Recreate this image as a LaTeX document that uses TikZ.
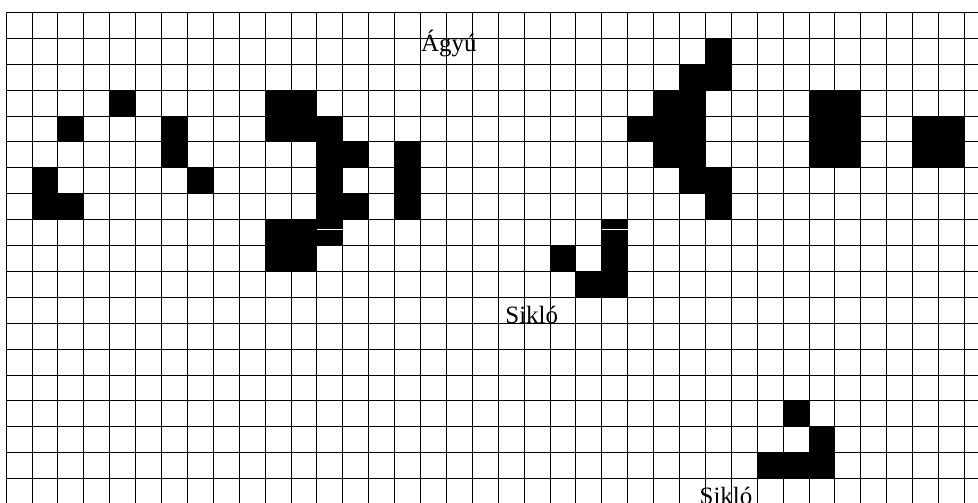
\documentclass[tikz,border=0pt]{standalone}
\usepackage{fontspec}
\setmainfont{Liberation Serif}

\begin{document}
\begin{tikzpicture}[x=0.5cm, y=-0.5cm,
  every node/.style={font=\fontsize{13.7}{16}\selectfont, inner sep=0pt},
  alive/.style={fill=black},
  gridline/.style={black, line width=0.4pt},
  gap/.style={white, line width=0.4pt}]
\useasboundingbox (-0.232,-0.475) rectangle (37.53,18.91);
\clip (-0.232,-0.475) rectangle (37.53,18.91);

% the board
\foreach \i in {0,...,37} \draw[gridline] (\i,0) -- (\i,20);
\foreach \j in {0,...,19} \draw[gridline] (0,\j) -- (38,\j);

% live cells (column/row)
\foreach \c/\r in {4/3, 2/4, 6/4, 6/5, 7/6, 1/6, 1/7, 2/7,
  10/3, 11/3, 10/4, 11/4, 12/4, 12/5, 12/6, 12/7, 12/8, 13/5, 13/7,
  15/5, 15/6, 15/7, 10/8, 11/8, 10/9, 11/9,
  27/1, 26/2, 27/2, 25/3, 26/3, 24/4, 25/4, 26/4, 25/5, 26/5, 26/6, 27/6, 27/7,
  31/3, 32/3, 31/4, 32/4, 31/5, 32/5,
  35/4, 36/4, 35/5, 36/5,
  21/9, 22/10, 23/8, 23/9, 23/10,
  30/15, 31/16, 29/17, 30/17, 31/17}
  \fill[alive] (\c,\r) rectangle ++(1,1);
\draw[gap] (12,8.386) -- ++(1,0);
\draw[gap] (23,8.386) -- ++(1,0);

% labels
\node[anchor=base] (agyu) at (17.1,1.52) {Ágyú};
\node[anchor=base] (siklo1) at (20.3,12) {Sikló};
\node[anchor=base] (siklo2) at (27.8,19) {Sikló};
\end{tikzpicture}
\end{document}
